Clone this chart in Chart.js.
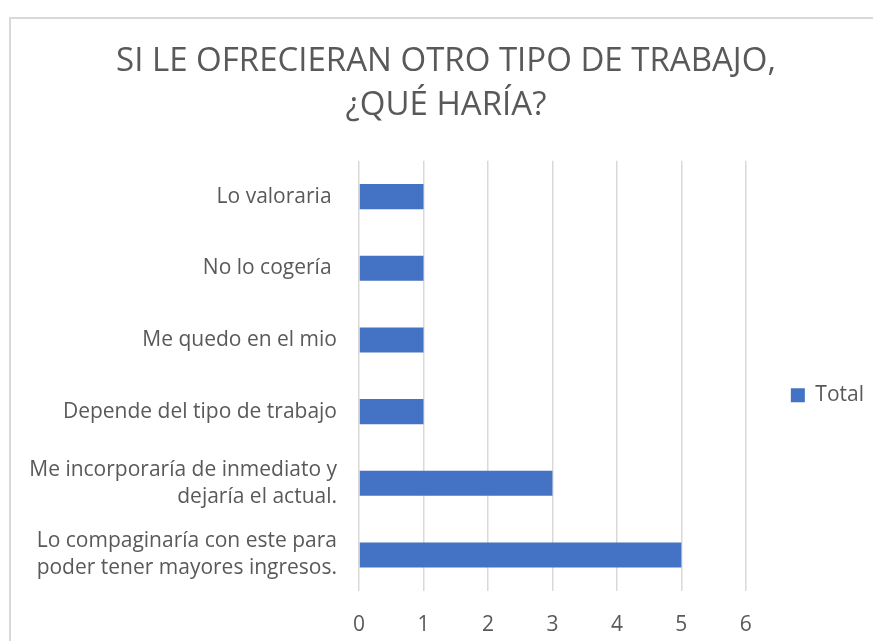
<!DOCTYPE html>
<html>
<head>
<meta charset="utf-8">
<script src="https://cdn.jsdelivr.net/npm/chart.js@4.4.0/dist/chart.umd.min.js"></script>
<style>
    body { margin: 0; background: #fff; overflow: hidden; }
    #frame { position: absolute; left: 9px; top: 17px; width: 900px; height: 700px; border: 2px solid #d9d9d9; box-sizing: border-box; }
    #wrap { position: absolute; left: 0; top: 0; width: 873px; height: 641px; }
</style>
</head>
<body>
<div id="frame"></div>
<div id="wrap"><canvas id="chart"></canvas></div>
<script>
// Data
const categories = [
    'Lo valoraria ',
    'No lo cogería ',
    'Me quedo en el mio',
    'Depende del tipo de trabajo',
    ['Me incorporaría de inmediato y', 'dejaría el actual.'],
    ['Lo compaginaría con este para', 'poder tener mayores ingresos.']
];
const totals = [1, 1, 1, 1, 3, 5];
const xTicks = [0, 1, 2, 3, 4, 5, 6];

const textColor = '#595959';
const fontFamily = '"Open Sans", sans-serif';

const ctx = document.getElementById('chart').getContext('2d');
new Chart(ctx, {
    type: 'bar',
    data: {
        labels: categories,
        datasets: [{
            label: 'Total',
            data: totals,
            backgroundColor: '#4472C4',
            barPercentage: 0.35,
            categoryPercentage: 1
        }]
    },
    options: {
        indexAxis: 'y',
        responsive: true,
        maintainAspectRatio: false,
        animation: false,
        layout: {
            padding: { left: 18, right: -1, top: 0, bottom: -19 }
        },
        plugins: {
            title: {
                display: true,
                text: ['SI LE OFRECIERAN OTRO TIPO DE TRABAJO,', '¿QUÉ HARÍA?'],
                color: textColor,
                font: { family: fontFamily, size: 33, weight: 'normal', lineHeight: 1.33 },
                padding: { top: 40, bottom: 33 }
            },
            legend: {
                position: 'right',
                fullSize: false,
                // empty title only nudges the legend item down
                title: { display: true, text: '', padding: { top: 5, bottom: 11 }, font: { size: 19 } },
                labels: {
                    color: textColor,
                    font: { family: fontFamily, size: 21 },
                    boxWidth: 14,
                    boxHeight: 14,
                    padding: 45
                }
            },
            tooltip: { enabled: false }
        },
        scales: {
            x: {
                min: 0,
                max: 6,
                afterBuildTicks: scale => {
                    scale.ticks = xTicks.map(v => ({ value: v }));
                },
                grid: { color: '#d9d9d9', lineWidth: 1.5, drawTicks: false },
                border: { display: false },
                ticks: {
                    color: textColor,
                    font: { family: fontFamily, size: 21 },
                    padding: 22
                }
            },
            y: {
                grid: { display: false, drawTicks: false },
                border: { display: false },
                afterFit: scale => { scale.width = 341; },
                ticks: {
                    color: textColor,
                    font: { family: fontFamily, size: 21, lineHeight: 1.29 },
                    padding: 22
                }
            }
        }
    }
});
</script>
</body>
</html>
